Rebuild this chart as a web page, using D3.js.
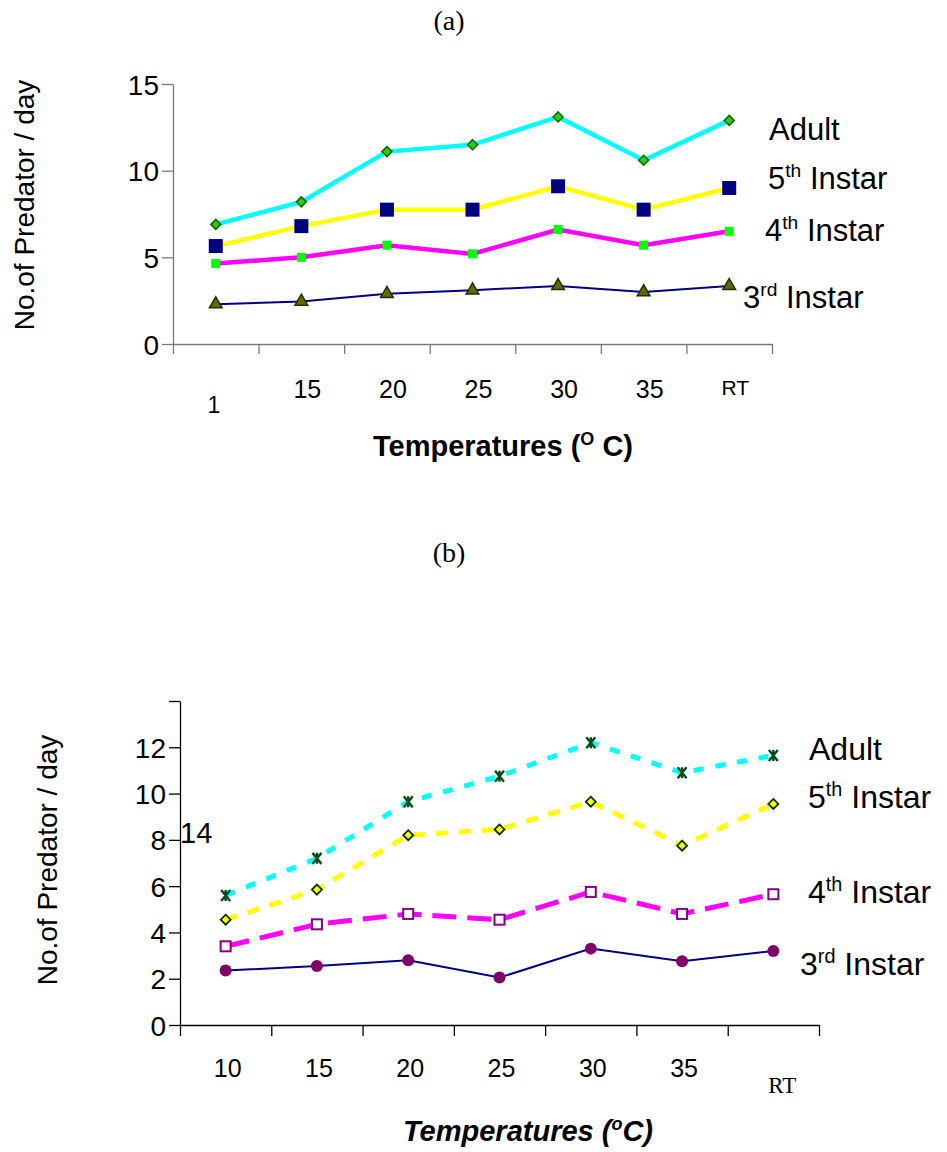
<!DOCTYPE html>
<html><head><meta charset="utf-8">
<script src="https://cdn.jsdelivr.net/npm/d3@7"></script>
<style>body{margin:0;background:#fff}svg{display:block}</style>
</head><body>
<svg id="c" width="947" height="1152"></svg>
<script>
// ---------- data ----------
const categoriesA = ["10","15","20","25","30","35","RT"];
const tickLabelsA = ["1","15","20","25","30","35","RT"];
const adultA = [6.9, 8.2, 11.1, 11.5, 13.1, 10.6, 12.9];
const fifthA = [5.65, 6.8, 7.75, 7.75, 9.1, 7.75, 9.0];
const fourthA = [4.65, 5.0, 5.7, 5.2, 6.6, 5.7, 6.5];
const thirdA = [2.3, 2.45, 2.9, 3.1, 3.35, 3.0, 3.35];
const yTicksA = [0, 5, 10, 15];

const categoriesB = ["10","15","20","25","30","35","RT"];
const tickLabelsB = ["10","15","20","25","30","35","RT"];
const adultB = [5.6, 7.2, 9.65, 10.75, 12.2, 10.9, 11.65];
const fifthB = [4.55, 5.85, 8.2, 8.45, 9.65, 7.75, 9.55];
const fourthB = [3.4, 4.35, 4.8, 4.55, 5.75, 4.8, 5.65];
const thirdB = [2.35, 2.55, 2.8, 2.05, 3.3, 2.75, 3.2];
const yTicksB = [0, 2, 4, 6, 8, 10, 12, 14];

const svg = d3.select("#c");
const SANS = "'Liberation Sans', Arial, sans-serif";
const SERIF = "'Liberation Serif', 'Times New Roman', serif";

function supText(g, x, y, base, sup, rest, size, anchor) {
  const t = g.append("text").attr("x", x).attr("y", y)
    .attr("font-family", SANS).attr("font-size", size).attr("fill", "#000")
    .attr("text-anchor", anchor || "start");
  t.append("tspan").text(base);
  if (sup) {
    t.append("tspan").attr("font-size", size * 0.62).attr("dy", -size * 0.38).text(sup);
    t.append("tspan").attr("dy", size * 0.38).text(rest);
  }
  return t;
}

// ---------- chart (a) ----------
(function(){
  const g = svg.append("g");
  const x0 = 173, x1 = 772, yB = 344, yT = 84;
  const xb = d3.scaleBand().domain(categoriesA).range([x0, x1]).padding(0);
  const xc = d => xb(d) + xb.bandwidth() / 2;
  const xl = d3.scaleLinear().domain([0, 7]).range([x0, x1]);
  const y = d3.scaleLinear().domain([0, 15]).range([yB, yT]);

  g.append("text").attr("x", 449).attr("y", 30).attr("text-anchor","middle")
    .attr("font-family", SERIF).attr("font-size", 28).text("(a)");

  const ya = g.append("g").attr("transform", `translate(${x0},0)`)
    .call(d3.axisLeft(y).tickValues(yTicksA).tickSize(11).tickPadding(3).tickSizeOuter(0));
  ya.selectAll("path,line").attr("stroke", "#777").attr("stroke-width", 1.3);
  ya.selectAll("text").attr("font-family", SANS).attr("font-size", 28).attr("fill","#000").attr("dy","0.36em");

  const xa = g.append("g").attr("transform", `translate(0,${yB})`)
    .call(d3.axisBottom(xl).tickValues(d3.range(0, 8)).tickSize(10).tickFormat("").tickSizeOuter(0));
  xa.selectAll("path,line").attr("stroke", "#777").attr("stroke-width", 1.3);

  categoriesA.forEach((c, i) => {
    const lab = tickLabelsA[i];
    let tx = xc(c) + 6, ty = 398, fs = 25;
    if (i === 0) { tx = xc(c) - 2; ty = 413; fs = 23; }
    if (lab === "RT") { fs = 21; ty = 395; }
    g.append("text").attr("x", tx).attr("y", ty).attr("text-anchor","middle")
      .attr("font-family", SANS).attr("font-size", fs).text(lab);
  });

  const tt = g.append("text").attr("x", 503).attr("y", 456).attr("text-anchor","middle")
    .attr("font-family", SANS).attr("font-size", 29).attr("font-weight","bold");
  tt.append("tspan").text("Temperatures (");
  tt.append("tspan").attr("font-size", 18).attr("dy", -11).text("O");
  tt.append("tspan").attr("dy", 11).text(" C)");

  g.append("text").attr("transform", `translate(34,205) rotate(-90)`).attr("text-anchor","middle")
    .attr("font-family", SANS).attr("font-size", 28).text("No.of Predator / day");

  const line = d3.line().x((d, i) => xc(categoriesA[i])).y(d => y(d));
  const series = [
    {v: thirdA, color: "#000080", w: 2},
    {v: fourthA, color: "#ff00ff", w: 4.5},
    {v: fifthA, color: "#ffff00", w: 4.5},
    {v: adultA, color: "#00ffff", w: 4.5}
  ];
  series.forEach(s => {
    g.append("path").datum(s.v).attr("d", line).attr("fill","none")
      .attr("stroke", s.color).attr("stroke-width", s.w).attr("stroke-linejoin","miter");
  });
  g.selectAll(".m3").data(thirdA).join("path")
    .attr("transform", (d, i) => `translate(${xc(categoriesA[i])},${y(d)})`)
    .attr("d", d3.symbol(d3.symbolTriangle, 70)).attr("fill", "#666600").attr("stroke","#1a3300").attr("stroke-width",1.5);
  g.selectAll(".m4").data(fourthA).join("rect")
    .attr("x", (d, i) => xc(categoriesA[i]) - 4.5).attr("y", d => y(d) - 4.5)
    .attr("width", 9).attr("height", 9).attr("fill", "#00ff00");
  g.selectAll(".m5").data(fifthA).join("rect")
    .attr("x", (d, i) => xc(categoriesA[i]) - 7).attr("y", d => y(d) - 7)
    .attr("width", 14).attr("height", 14).attr("fill", "#000080");
  g.selectAll(".m6").data(adultA).join("path")
    .attr("transform", (d, i) => `translate(${xc(categoriesA[i])},${y(d)})`)
    .attr("d", "M0,-5L5,0L0,5L-5,0Z").attr("fill", "#33cc00").attr("stroke","#006600").attr("stroke-width",1.5);

  supText(g, 769, 140, "Adult", null, null, 31);
  supText(g, 768, 189, "5", "th", " Instar", 31);
  supText(g, 765, 241, "4", "th", " Instar", 31);
  supText(g, 743, 308, "3", "rd", " Instar", 31);
})();

// ---------- chart (b) ----------
(function(){
  const g = svg.append("g");
  const x0 = 180, x1 = 819, yB = 1025, yT = 701;
  const xb = d3.scaleBand().domain(categoriesB).range([x0, x1]).padding(0);
  const xc = d => xb(d) + xb.bandwidth() / 2;
  const xl = d3.scaleLinear().domain([0, 7]).range([x0, x1]);
  const y = d3.scaleLinear().domain([0, 14]).range([yB, yT]);

  g.append("text").attr("x", 449).attr("y", 562).attr("text-anchor","middle")
    .attr("font-family", SERIF).attr("font-size", 28).text("(b)");

  const ya = g.append("g").attr("transform", `translate(${x0},0)`)
    .call(d3.axisLeft(y).tickValues(yTicksB).tickSize(11).tickPadding(3).tickSizeOuter(0)
      .tickFormat(d => d === 14 ? "" : d));
  ya.selectAll("path,line").attr("stroke", "#000").attr("stroke-width", 1.3);
  ya.selectAll("text").attr("font-family", SANS).attr("font-size", 28).attr("fill","#000").attr("dy","0.36em");

  const xa = g.append("g").attr("transform", `translate(0,${yB})`)
    .call(d3.axisBottom(xl).tickValues(d3.range(0, 8)).tickSize(11).tickFormat("").tickSizeOuter(0));
  xa.selectAll("path,line").attr("stroke", "#000").attr("stroke-width", 1.3);

  g.append("text").attr("x", 180).attr("y", 843).attr("font-family", SANS).attr("font-size", 29).text("14");

  categoriesB.forEach((c, i) => {
    const lab = tickLabelsB[i];
    if (lab === "RT") {
      g.append("text").attr("x", xc(c) + 9).attr("y", 1093).attr("text-anchor","middle")
        .attr("font-family", SERIF).attr("font-size", 23).text(lab);
    } else {
      g.append("text").attr("x", xc(c) + 2).attr("y", 1077).attr("text-anchor","middle")
        .attr("font-family", SANS).attr("font-size", 25).text(lab);
    }
  });

  const tt = g.append("text").attr("x", 528).attr("y", 1141).attr("text-anchor","middle")
    .attr("font-family", SANS).attr("font-size", 29).attr("font-weight","bold").attr("font-style","italic");
  tt.append("tspan").text("Temperatures (");
  tt.append("tspan").attr("font-size", 18).attr("dy", -11).text("o");
  tt.append("tspan").attr("dy", 11).text("C)");

  g.append("text").attr("transform", `translate(57,860) rotate(-90)`).attr("text-anchor","middle")
    .attr("font-family", SANS).attr("font-size", 28).text("No.of Predator / day");

  const line = d3.line().x((d, i) => xc(categoriesB[i])).y(d => y(d));
  const series = [
    {v: thirdB, color: "#000080", w: 2, dash: null},
    {v: fourthB, color: "#ff00ff", w: 5, dash: "24,11"},
    {v: fifthB, color: "#ffff00", w: 5, dash: "12,11"},
    {v: adultB, color: "#00ffff", w: 5, dash: "10,12"}
  ];
  series.forEach(s => {
    const p = g.append("path").datum(s.v).attr("d", line).attr("fill","none")
      .attr("stroke", s.color).attr("stroke-width", s.w);
    if (s.dash) p.attr("stroke-dasharray", s.dash);
  });

  g.selectAll(".n3").data(thirdB).join("circle")
    .attr("cx", (d, i) => xc(categoriesB[i])).attr("cy", d => y(d)).attr("r", 6)
    .attr("fill", "#800066");
  g.selectAll(".n4").data(fourthB).join("rect")
    .attr("x", (d, i) => xc(categoriesB[i]) - 5).attr("y", d => y(d) - 5)
    .attr("width", 10).attr("height", 10).attr("fill", "#fff").attr("stroke","#800080").attr("stroke-width",2);
  g.selectAll(".n5").data(fifthB).join("path")
    .attr("transform", (d, i) => `translate(${xc(categoriesB[i])},${y(d)})`)
    .attr("d", "M0,-5L5,0L0,5L-5,0Z").attr("fill", "#ffff00").attr("stroke","#003300").attr("stroke-width",1.8);
  g.selectAll(".n6").data(adultB).join("path")
    .attr("transform", (d, i) => `translate(${xc(categoriesB[i])},${y(d)})`)
    .attr("d", "M-4.5,-5.5L4.5,5.5M4.5,-5.5L-4.5,5.5M0,-5.5L0,5.5").attr("fill", "none").attr("stroke","#004d1a").attr("stroke-width",2.4);

  supText(g, 809, 760, "Adult", null, null, 32);
  supText(g, 808, 808, "5", "th", " Instar", 32);
  supText(g, 808, 903, "4", "th", " Instar", 32);
  supText(g, 800, 975, "3", "rd", " Instar", 32);
})();
</script>
</body></html>
